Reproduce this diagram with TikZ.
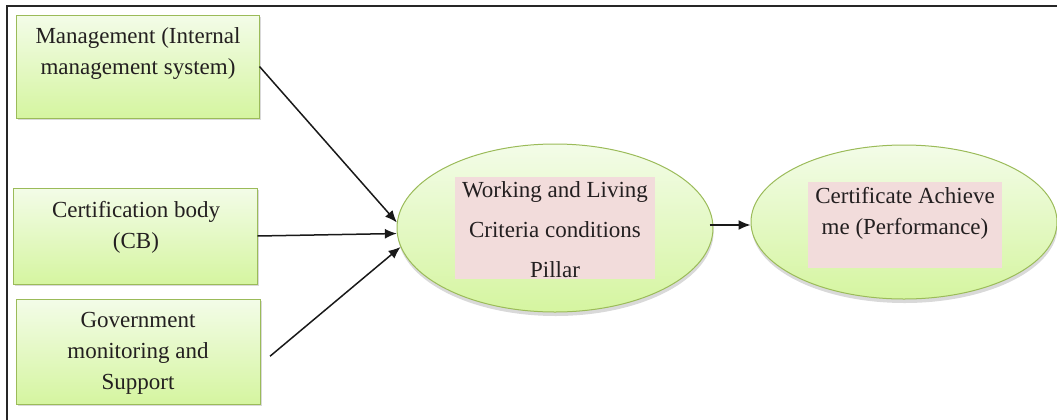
\documentclass[tikz,border=0pt]{standalone}
\usepackage{fontspec}
\setmainfont{Liberation Serif}
\usepackage{tikz}
\usetikzlibrary{arrows.meta,positioning,shapes.geometric,shadows}
\definecolor{boxedge}{RGB}{155,187,89}
\definecolor{greentop}{RGB}{243,252,232}
\definecolor{greenbot}{RGB}{213,245,160}
\definecolor{pinkfill}{RGB}{242,220,219}
\definecolor{inktext}{RGB}{35,31,32}
\tikzset{factor/.style={rectangle, draw=boxedge, line width=0.5pt, top color=greentop, bottom color=greenbot,
  drop shadow={shadow xshift=1pt, shadow yshift=-1.2pt, opacity=0.3}, inner sep=0pt},
oval/.style={ellipse, draw=boxedge, line width=0.5pt, top color=greentop, bottom color=greenbot,
  drop shadow={shadow xshift=0.3pt, shadow yshift=-2pt, opacity=0.3}, inner sep=0pt},
tag/.style={fill=pinkfill, inner sep=0pt},
%text of the boxes, line skip can be changed per node
txt/.style={align=center, text=inktext, inner sep=0pt, font=\fontsize{11.5}{#1}\selectfont},
txt/.default={15.5pt},
arr/.style={-{Latex[length=6pt,width=5pt]}, line width=0.75pt, black!90}}

\begin{document}
\begin{tikzpicture}[x=0.5pt, y=-0.5pt]
\useasboundingbox (0,0) rectangle (1057,419);
\clip (0,0) rectangle (1057,419);

\draw[line width=1pt, black!85] (7,430) -- (7,6) -- (1070,6);

% the three factors on the left
\node[factor, minimum width=121.5pt, minimum height=51.5pt] (mgmt) at (137.5,66.5) {};
\node[txt] (mgmttxt) at (138,53) {Management (Internal\\management system)};

\node[factor, minimum width=122pt, minimum height=48pt] (cb) at (135,236) {};
\node[txt] (cbtxt) at (136,227) {Certification body\\(CB)};

\node[factor, minimum width=122pt, minimum height=52.5pt] (gov) at (138,351.5) {};
\node[txt] (govtxt) at (138,353) {Government\\monitoring and\\Support};

% pillar and outcome
\node[oval, minimum width=158pt, minimum height=84pt] (pillar) at (555,228) {};
\node[tag, minimum width=100pt, minimum height=51pt] (pillartag) at (555,228) {};
\node[txt=20pt] (pillartxt) at (555,230) {Working and Living\\Criteria conditions\\Pillar};

\node[oval, minimum width=153pt, minimum height=77pt] (cert) at (904,222) {};
\node[tag, minimum width=97pt, minimum height=43pt] (certtag) at (905,225) {};
\node[txt] (certtxt) at (905,213) {Certificate Achieve\\me (Performance)};

\draw[arr] (mgmt.east) -- (pillar.178);
\draw[arr] (cb.east) -- (pillar.182);
\draw[arr, shorten <=1pt] ([xshift=4pt,yshift=-3pt]gov.east) -- (pillar.187);
\draw[arr] ([xshift=-2pt,yshift=1.5pt]pillar.east) -- ([yshift=-1.5pt]cert.west);

\end{tikzpicture}
\end{document}
